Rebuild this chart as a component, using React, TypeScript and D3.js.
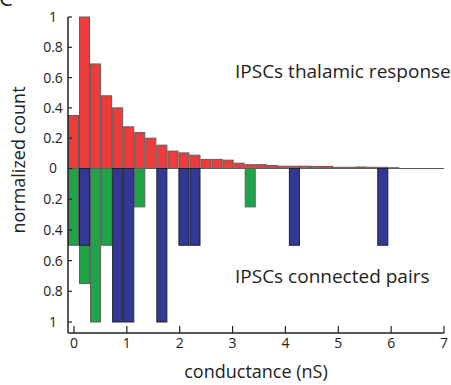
import React from "react";
import * as d3 from "d3";

// bin centers (nS)
const binCenters: number[] = d3.range(30).map((i) => -0.01 + i * 0.209);
const BIN_W = 0.19;

// normalized counts, thalamic response (upward, red)
const thalamic: number[] = [
  0.35, 1.0, 0.69, 0.48, 0.4, 0.275, 0.237, 0.2, 0.154, 0.115,
  0.103, 0.088, 0.06, 0.06, 0.055, 0.035, 0.025, 0.025, 0.02, 0.015,
  0.015, 0.015, 0.014, 0.014, 0.008, 0.008, 0.01, 0.008, 0.008, 0.005,
];

// connected pairs (downward), green and blue groups: [binIndex, value]
const pairsGreen: [number, number][] = [
  [0, 0.5], [1, 0.75], [2, 1.0], [3, 0.5], [6, 0.25], [16, 0.25],
];
const pairsBlue: [number, number][] = [
  [1, 0.5], [4, 1.0], [5, 1.0], [8, 1.0], [10, 0.5], [11, 0.5], [20, 0.5], [28, 0.5],
];

const xTicks = [0, 1, 2, 3, 4, 5, 6, 7];
const yTicksUp = [0, 0.2, 0.4, 0.6, 0.8, 1];
const yTicksDown = [0.2, 0.4, 0.6, 0.8, 1];
const fmt = (v: number) => (v === 0 ? "0" : v === 1 ? "1" : String(v));

const W = 451;
const H = 385;
const FONT = "'Open Sans', 'DejaVu Sans', sans-serif";

export default function App() {
  const x = d3.scaleLinear().domain([0, 7]).range([74, 444]);
  const yUp = d3.scaleLinear().domain([0, 1]).range([168.5, 17]);
  const yDown = d3.scaleLinear().domain([0, 1]).range([168.5, 322]);
  const axisX0 = 68;
  const axisY = 333;
  const barW = x(BIN_W) - x(0);

  const RED = "#ee3b3b";
  const GREEN = "#1fa448";
  const BLUE = "#323896";
  const STROKE = "#5e5e5e";

  return (
    <svg
      width={W}
      height={H}
      style={{ position: "absolute", left: 0, top: 0, background: "#fff" }}
      fontFamily={FONT}
    >
      {/* panel letter */}
      <text x={-1} y={6} fontSize={22} fill="#222">C</text>

      {/* zero baseline */}
      <line x1={axisX0} x2={x(7)} y1={yUp(0)} y2={yUp(0)} stroke="#555" strokeWidth={1} />

      {/* red bars upward */}
      {thalamic.map((v, i) => (
        <rect
          key={"r" + i}
          x={x(binCenters[i]) - barW / 2}
          y={yUp(v)}
          width={barW}
          height={yUp(0) - yUp(v)}
          fill={RED}
          stroke={STROKE}
          strokeWidth={1}
        />
      ))}

      {/* green bars downward */}
      {pairsGreen.map(([b, v]) => (
        <rect
          key={"g" + b}
          x={x(binCenters[b]) - barW / 2}
          y={yDown(0)}
          width={barW}
          height={yDown(v) - yDown(0)}
          fill={GREEN}
          stroke={STROKE}
          strokeWidth={1}
        />
      ))}
      {/* blue bars downward */}
      {pairsBlue.map(([b, v]) => (
        <rect
          key={"b" + b}
          x={x(binCenters[b]) - barW / 2}
          y={yDown(0)}
          width={barW}
          height={yDown(v) - yDown(0)}
          fill={BLUE}
          stroke="#222"
          strokeWidth={1}
        />
      ))}

      {/* y axis */}
      <line x1={axisX0} x2={axisX0} y1={yUp(1)} y2={axisY} stroke="#222" strokeWidth={1.5} />
      {yTicksUp.map((t) => (
        <g key={"yu" + t}>
          <line x1={axisX0} x2={axisX0 + 4} y1={yUp(t)} y2={yUp(t)} stroke="#222" strokeWidth={1.2} />
          <text x={53} y={yUp(t)} dy="0.35em" textAnchor="middle" fontSize={14} fill="#222">
            {fmt(t)}
          </text>
        </g>
      ))}
      {yTicksDown.map((t) => (
        <g key={"yd" + t}>
          <line x1={axisX0} x2={axisX0 + 4} y1={yDown(t)} y2={yDown(t)} stroke="#222" strokeWidth={1.2} />
          <text x={53} y={yDown(t)} dy="0.35em" textAnchor="middle" fontSize={14} fill="#222">
            {fmt(t)}
          </text>
        </g>
      ))}

      {/* x axis */}
      <line x1={axisX0} x2={x(7)} y1={axisY} y2={axisY} stroke="#222" strokeWidth={1.5} />
      {xTicks.map((t) => (
        <g key={"xt" + t}>
          <line x1={x(t)} x2={x(t)} y1={axisY} y2={axisY - 7} stroke="#222" strokeWidth={1.2} />
          <text x={x(t)} y={348} textAnchor="middle" fontSize={14} fill="#222">
            {t}
          </text>
        </g>
      ))}

      {/* axis titles */}
      <text x={256} y={378} textAnchor="middle" fontSize={18} fill="#222">
        conductance (nS)
      </text>
      <text
        transform={`translate(25,160) rotate(-90)`}
        textAnchor="middle"
        fontSize={18}
        fill="#222"
      >
        normalized count
      </text>

      {/* annotations */}
      <text x={235} y={78} fontSize={19} fill="#222">IPSCs thalamic response</text>
      <text x={235} y={283} fontSize={19} fill="#222">IPSCs connected pairs</text>
    </svg>
  );
}
